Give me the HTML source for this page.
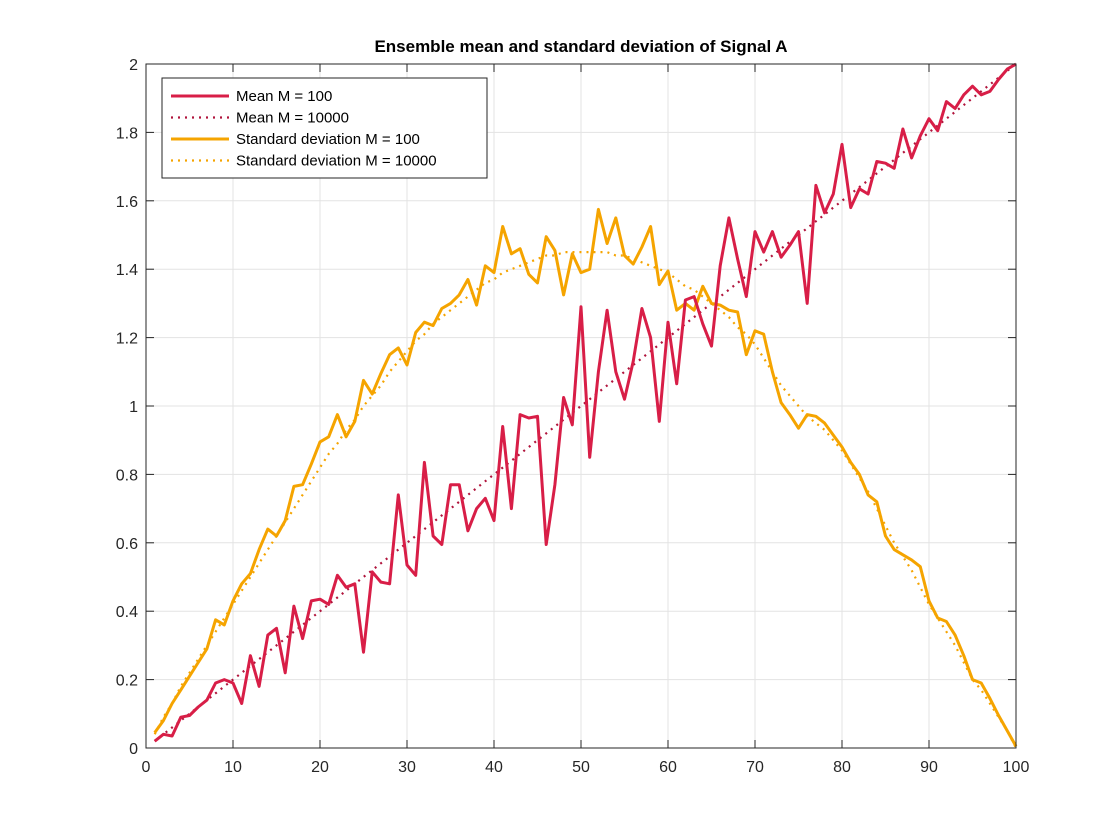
<!DOCTYPE html>
<html><head><meta charset="utf-8"><style>
body{margin:0;background:#fff;}
svg{display:block;font-family:"Liberation Sans",sans-serif;}
</style></head><body>
<svg id="chart" width="1120" height="840" xmlns="http://www.w3.org/2000/svg">
<rect width="1120" height="840" fill="#fff"/>
<text x="581" y="52" text-anchor="middle" font-size="17" font-weight="bold" fill="#000">Ensemble mean and standard deviation of Signal A</text>
<g id="grid"></g>
<g id="series"></g>
<g id="axes"></g>
<g id="legend"></g>
</svg>
<script>
const meanM100=[0.02,0.04,0.035,0.09,0.095,0.12,0.14,0.19,0.2,0.19,0.13,0.27,0.18,0.33,0.35,0.22,0.415,0.32,0.43,0.435,0.42,0.505,0.47,0.48,0.28,0.515,0.485,0.48,0.74,0.535,0.505,0.835,0.62,0.595,0.77,0.77,0.635,0.7,0.73,0.665,0.94,0.7,0.975,0.965,0.97,0.595,0.77,1.025,0.945,1.29,0.85,1.1,1.28,1.1,1.02,1.13,1.285,1.2,0.955,1.245,1.065,1.31,1.32,1.24,1.175,1.41,1.55,1.43,1.32,1.51,1.45,1.51,1.435,1.47,1.51,1.3,1.645,1.565,1.62,1.765,1.58,1.635,1.62,1.715,1.71,1.695,1.81,1.725,1.79,1.84,1.805,1.89,1.87,1.91,1.935,1.91,1.92,1.955,1.985,2.0];
const meanM10000=[0.02,0.04,0.06,0.08,0.1,0.12,0.14,0.16,0.18,0.2,0.22,0.24,0.26,0.28,0.3,0.32,0.34,0.36,0.38,0.4,0.42,0.44,0.46,0.48,0.5,0.52,0.54,0.56,0.58,0.6,0.62,0.64,0.66,0.68,0.7,0.72,0.74,0.76,0.78,0.8,0.82,0.84,0.86,0.88,0.9,0.92,0.94,0.96,0.98,1.0,1.02,1.04,1.06,1.08,1.1,1.12,1.14,1.16,1.18,1.2,1.22,1.24,1.26,1.28,1.3,1.32,1.34,1.36,1.38,1.4,1.42,1.44,1.46,1.48,1.5,1.52,1.54,1.56,1.58,1.6,1.62,1.64,1.66,1.68,1.7,1.72,1.74,1.76,1.78,1.8,1.82,1.84,1.86,1.88,1.9,1.92,1.94,1.96,1.98,2.0];
const stdM100=[0.045,0.08,0.13,0.17,0.21,0.25,0.29,0.375,0.36,0.43,0.48,0.51,0.58,0.64,0.62,0.665,0.765,0.77,0.83,0.895,0.91,0.975,0.91,0.955,1.075,1.035,1.095,1.15,1.17,1.12,1.215,1.245,1.235,1.285,1.3,1.325,1.37,1.295,1.41,1.39,1.525,1.445,1.46,1.385,1.36,1.495,1.455,1.325,1.445,1.39,1.4,1.575,1.475,1.55,1.44,1.415,1.465,1.525,1.355,1.395,1.28,1.3,1.28,1.35,1.3,1.295,1.28,1.275,1.15,1.22,1.21,1.1,1.01,0.975,0.935,0.975,0.97,0.95,0.915,0.88,0.835,0.8,0.74,0.72,0.62,0.58,0.565,0.55,0.53,0.43,0.38,0.37,0.33,0.27,0.2,0.19,0.145,0.095,0.05,0.005];
const stdM10000=[0.04,0.09,0.13,0.18,0.22,0.26,0.30,0.34,0.38,0.42,0.46,0.50,0.54,0.58,0.62,0.66,0.70,0.74,0.78,0.82,0.86,0.89,0.93,0.96,1.00,1.03,1.06,1.10,1.13,1.16,1.19,1.21,1.24,1.26,1.28,1.30,1.32,1.34,1.36,1.37,1.39,1.40,1.41,1.42,1.43,1.44,1.44,1.45,1.45,1.45,1.45,1.45,1.45,1.44,1.44,1.43,1.42,1.41,1.40,1.39,1.37,1.35,1.34,1.32,1.30,1.28,1.26,1.23,1.21,1.18,1.14,1.10,1.06,1.03,1.00,0.97,0.95,0.93,0.90,0.87,0.83,0.79,0.75,0.70,0.65,0.60,0.56,0.52,0.47,0.42,0.38,0.34,0.30,0.25,0.20,0.17,0.13,0.09,0.05,0.0];
const xTicks=[0,10,20,30,40,50,60,70,80,90,100];
const yTicks=[0,0.2,0.4,0.6,0.8,1,1.2,1.4,1.6,1.8,2];
const yTickLabels=["0","0.2","0.4","0.6","0.8","1","1.2","1.4","1.6","1.8","2"];
const legendLabels=["Mean M = 100","Mean M = 10000","Standard deviation M = 100","Standard deviation M = 10000"];

const L=146,R=1016,T=64,B=748;
const xs=v=>L+(v-0)/(100-0)*(R-L);
const ys=v=>B-(v-0)/(2-0)*(B-T);
const NS="http://www.w3.org/2000/svg";
function mk(tag,attrs,parent){const e=document.createElementNS(NS,tag);for(const k in attrs)e.setAttribute(k,attrs[k]);parent.appendChild(e);return e;}
const grid=document.getElementById('grid'),series=document.getElementById('series'),axes=document.getElementById('axes'),legend=document.getElementById('legend');

xTicks.forEach(t=>{
  const g=mk('line',{x1:xs(t),x2:xs(t),y1:T,y2:B,stroke:'#e3e3e3','stroke-width':1},grid);
  
  
  mk('line',{x1:xs(t),x2:xs(t),y1:B,y2:B-8,stroke:'#262626','stroke-width':1},axes);
  mk('line',{x1:xs(t),x2:xs(t),y1:T,y2:T+8,stroke:'#262626','stroke-width':1},axes);
  const lb=mk('text',{x:xs(t),y:B+24,'text-anchor':'middle','font-size':16,fill:'#262626'},axes);
  lb.textContent=t;
  
  
});
yTicks.forEach((t,i)=>{
  const g=mk('line',{x1:L,x2:R,y1:ys(t),y2:ys(t),stroke:'#e3e3e3','stroke-width':1},grid);
  
  
  mk('line',{x1:L,x2:L+8,y1:ys(t),y2:ys(t),stroke:'#262626','stroke-width':1},axes);
  mk('line',{x1:R,x2:R-8,y1:ys(t),y2:ys(t),stroke:'#262626','stroke-width':1},axes);
  const lb=mk('text',{x:L-8,y:ys(t)+6,'text-anchor':'end','font-size':16,fill:'#262626'},axes);
  lb.textContent=yTickLabels[i];
  
  
});
const box=mk('rect',{x:L,y:T,width:R-L,height:B-T,fill:'none',stroke:'#262626','stroke-width':1},axes);



const red='#d81e47',orange='#f5a400';
function line(data,color,dotted,name){
  const pts=data.map((v,i)=>xs(i+1).toFixed(1)+','+ys(v).toFixed(1)).join(' ');
  const p=mk('polyline',{points:pts,fill:'none',stroke:color,'stroke-width':dotted?2.2:3,'stroke-linejoin':'round','stroke-dasharray':dotted?'2 5':'none'},series);
  
  
}
line(meanM10000,'#b0143c',true,'mean-m10000-line');
line(stdM10000,orange,true,'std-m10000-line');
line(stdM100,orange,false,'std-m100-line');
line(meanM100,red,false,'mean-m100-line');

const lr=mk('rect',{x:162,y:78,width:325,height:100,fill:'#fff',stroke:'#262626','stroke-width':1},legend);


const lc=[red,'#b0143c',orange,orange],ld=[false,true,false,true];
legendLabels.forEach((s,i)=>{
  const y=96+i*21.5;
  const ln=mk('line',{x1:171,x2:229,y1:y,y2:y,stroke:lc[i],'stroke-width':ld[i]?2.2:3,'stroke-dasharray':ld[i]?'2 5':'none'},legend);
  
  
  const t=mk('text',{x:236,y:y+5,'font-size':15,fill:'#000'},legend);
  t.textContent=s;
  
  
});
</script>
</body></html>
